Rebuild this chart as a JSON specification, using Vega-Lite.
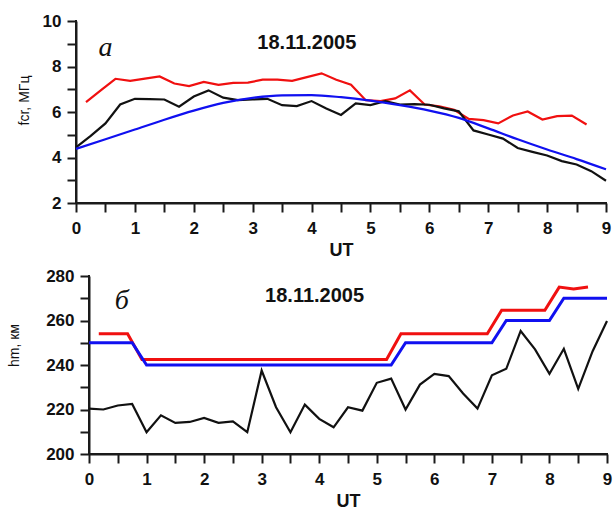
{
  "$schema": "https://vega.github.io/schema/vega-lite/v6.json",
  "background": "white",
  "padding": {"left": 7, "top": 12, "right": 2, "bottom": 2},
  "spacing": 8,
  "config": {
    "view": {"stroke": null},
    "axis": {
      "grid": false,
      "domain": true,
      "ticks": true,
      "domainColor": "#1a1a1a",
      "domainWidth": 2,
      "tickColor": "#1a1a1a",
      "tickWidth": 2,
      "tickSize": 9,
      "labelFont": "Liberation Sans",
      "labelFontWeight": "bold",
      "labelFontSize": 17,
      "labelColor": "#111",
      "labelFlush": false,
      "labelOverlap": false,
      "titleFont": "Liberation Sans",
      "titleColor": "#111"
    },
    "axisX": {"titleFontWeight": "bold", "titleFontSize": 18, "labelPadding": 8, "titlePadding": 5},
    "axisY": {"titleFontWeight": "normal", "titleFontSize": 14, "labelPadding": 6, "titlePadding": 6, "minExtent": 10}
  },
  "datasets": {
    "topBlack": [
      {"t":0,"v":4.45},{"t":0.25,"v":4.95},{"t":0.5,"v":5.5},{"t":0.75,"v":6.33},{"t":1,"v":6.58},{"t":1.25,"v":6.57},{"t":1.5,"v":6.55},{"t":1.75,"v":6.23},{"t":2,"v":6.68},{"t":2.25,"v":6.95},{"t":2.5,"v":6.63},{"t":2.75,"v":6.52},{"t":3,"v":6.55},{"t":3.25,"v":6.58},{"t":3.5,"v":6.3},{"t":3.75,"v":6.26},{"t":4,"v":6.48},{"t":4.25,"v":6.15},{"t":4.5,"v":5.87},{"t":4.75,"v":6.38},{"t":5,"v":6.3},{"t":5.25,"v":6.48},{"t":5.5,"v":6.33},{"t":5.75,"v":6.35},{"t":6,"v":6.32},{"t":6.25,"v":6.16},{"t":6.5,"v":6.03},{"t":6.75,"v":5.19},{"t":7,"v":5.01},{"t":7.25,"v":4.83},{"t":7.5,"v":4.42},{"t":7.75,"v":4.25},{"t":8,"v":4.09},{"t":8.25,"v":3.84},{"t":8.5,"v":3.69},{"t":8.75,"v":3.4},{"t":9,"v":2.98}
    ],
    "topRed": [
      {"t":0.17,"v":6.43},{"t":0.42,"v":6.95},{"t":0.67,"v":7.46},{"t":0.92,"v":7.37},{"t":1.17,"v":7.47},{"t":1.42,"v":7.56},{"t":1.67,"v":7.25},{"t":1.92,"v":7.14},{"t":2.17,"v":7.32},{"t":2.42,"v":7.19},{"t":2.67,"v":7.28},{"t":2.92,"v":7.29},{"t":3.17,"v":7.42},{"t":3.42,"v":7.42},{"t":3.67,"v":7.37},{"t":3.92,"v":7.53},{"t":4.17,"v":7.7},{"t":4.42,"v":7.42},{"t":4.67,"v":7.2},{"t":4.92,"v":6.52},{"t":5.17,"v":6.48},{"t":5.42,"v":6.6},{"t":5.67,"v":6.95},{"t":5.92,"v":6.33},{"t":6.17,"v":6.25},{"t":6.42,"v":6.1},{"t":6.67,"v":5.7},{"t":6.92,"v":5.64},{"t":7.17,"v":5.5},{"t":7.42,"v":5.85},{"t":7.67,"v":6.02},{"t":7.92,"v":5.67},{"t":8.17,"v":5.82},{"t":8.42,"v":5.84},{"t":8.67,"v":5.45}
    ],
    "topBlue": [
      {"t":0,"v":4.38},{"t":0.5,"v":4.8},{"t":1,"v":5.23},{"t":1.5,"v":5.66},{"t":2,"v":6.06},{"t":2.5,"v":6.4},{"t":3,"v":6.62},{"t":3.5,"v":6.73},{"t":4,"v":6.74},{"t":4.5,"v":6.65},{"t":5,"v":6.5},{"t":5.5,"v":6.3},{"t":6,"v":6.06},{"t":6.5,"v":5.74},{"t":7,"v":5.28},{"t":7.5,"v":4.8},{"t":8,"v":4.35},{"t":8.5,"v":3.93},{"t":9,"v":3.48}
    ],
    "botBlack": [
      {"t":0,"v":220.4},{"t":0.25,"v":220},{"t":0.5,"v":221.8},{"t":0.75,"v":222.5},{"t":1,"v":209.8},{"t":1.25,"v":217.4},{"t":1.5,"v":214},{"t":1.75,"v":214.4},{"t":2,"v":216.2},{"t":2.25,"v":214},{"t":2.5,"v":214.7},{"t":2.75,"v":209.8},{"t":3,"v":237.5},{"t":3.25,"v":221},{"t":3.5,"v":209.8},{"t":3.75,"v":222.2},{"t":4,"v":215.8},{"t":4.25,"v":212},{"t":4.5,"v":221},{"t":4.75,"v":219.5},{"t":5,"v":232},{"t":5.25,"v":233.9},{"t":5.5,"v":220},{"t":5.75,"v":231.2},{"t":6,"v":236},{"t":6.25,"v":235},{"t":6.5,"v":227.2},{"t":6.75,"v":220.4},{"t":7,"v":235.4},{"t":7.25,"v":238.3},{"t":7.5,"v":255.3},{"t":7.75,"v":247},{"t":8,"v":236},{"t":8.25,"v":247.3},{"t":8.5,"v":229.3},{"t":8.75,"v":246.2},{"t":9,"v":259.8}
    ],
    "botBlue": [
      {"t":0,"v":250},{"t":0.75,"v":250},{"t":1,"v":240},{"t":5.25,"v":240},{"t":5.5,"v":250},{"t":7,"v":250},{"t":7.25,"v":260},{"t":8,"v":260},{"t":8.25,"v":270},{"t":9,"v":270}
    ],
    "botRed": [
      {"t":0.17,"v":254},{"t":0.67,"v":254},{"t":0.92,"v":242.5},{"t":5.17,"v":242.5},{"t":5.42,"v":254},{"t":6.92,"v":254},{"t":7.17,"v":264.6},{"t":7.92,"v":264.6},{"t":8.17,"v":275},{"t":8.42,"v":274.2},{"t":8.67,"v":275.1}
    ],
    "topFrame": [
      {"g":"y","t":0,"v":10},{"g":"y","t":0,"v":2},{"g":"x","t":0,"v":2},{"g":"x","t":9,"v":2}
    ],
    "botFrame": [
      {"g":"y","t":0,"v":280},{"g":"y","t":0,"v":200},{"g":"x","t":0,"v":200},{"g":"x","t":9,"v":200}
    ],
    "topLabels": [
      {"t":0.5,"v":8.8,"s":"а","kind":"letter"},
      {"t":3.92,"v":9.03,"s":"18.11.2005","kind":"date"}
    ],
    "botLabels": [
      {"t":0.57,"v":268.9,"s":"б","kind":"letter"},
      {"t":3.92,"v":271.1,"s":"18.11.2005","kind":"date"}
    ]
  },
  "vconcat": [
    {
      "width": 530,
      "height": 182,
      "encoding": {
        "x": {"field": "t", "type": "quantitative", "scale": {"domain": [0, 9], "nice": false, "zero": false},
              "axis": {"title": "UT", "values": [0,0.5,1,1.5,2,2.5,3,3.5,4,4.5,5,5.5,6,6.5,7,7.5,8,8.5,9], "labelExpr": "datum.value % 1 == 0 ? format(datum.value, 'd') : ''"}},
        "y": {"field": "v", "type": "quantitative", "scale": {"domain": [2, 10], "nice": false, "zero": false},
              "axis": {"title": "fcr, МГц", "titleX": -45, "titleY": 79, "values": [2,3,4,5,6,7,8,9,10], "labelExpr": "datum.value % 2 == 0 ? format(datum.value, 'd') : ''"}}
      },
      "layer": [
        {"data": {"name": "topFrame"}, "mark": {"type": "line", "color": "#1a1a1a", "strokeWidth": 2, "strokeCap": "square"}, "encoding": {"detail": {"field": "g"}}},
        {"data": {"name": "topRed"}, "mark": {"type": "line", "color": "#f01010", "strokeWidth": 2.2}},
        {"data": {"name": "topBlack"}, "mark": {"type": "line", "color": "#111", "strokeWidth": 2.2}},
        {"data": {"name": "topBlue"}, "mark": {"type": "line", "color": "#1010f0", "strokeWidth": 2.2, "interpolate": "monotone"}},
        {"data": {"name": "topLabels"}, "transform": [{"filter": "datum.kind == 'letter'"}],
         "mark": {"type": "text", "font": "Liberation Serif", "fontStyle": "italic", "fontSize": 28, "color": "#111"},
         "encoding": {"text": {"field": "s"}}},
        {"data": {"name": "topLabels"}, "transform": [{"filter": "datum.kind == 'date'"}],
         "mark": {"type": "text", "font": "Liberation Sans", "fontWeight": "bold", "fontSize": 20, "color": "#111"},
         "encoding": {"text": {"field": "s"}}}
      ]
    },
    {
      "width": 531,
      "height": 178,
      "encoding": {
        "x": {"field": "t", "type": "quantitative", "scale": {"domain": [0, 9], "nice": false, "zero": false, "range": [13, 531]},
              "axis": {"title": "UT", "titleX": 272, "values": [0,0.5,1,1.5,2,2.5,3,3.5,4,4.5,5,5.5,6,6.5,7,7.5,8,8.5,9], "labelExpr": "datum.value % 1 == 0 ? format(datum.value, 'd') : ''"}},
        "y": {"field": "v", "type": "quantitative", "scale": {"domain": [200, 280], "nice": false, "zero": false},
              "axis": {"title": "hm, км", "offset": -13, "titleX": -68, "titleY": 69, "values": [200,210,220,230,240,250,260,270,280], "labelExpr": "datum.value % 20 == 0 ? format(datum.value, 'd') : ''"}}
      },
      "layer": [
        {"data": {"name": "botFrame"}, "mark": {"type": "line", "color": "#1a1a1a", "strokeWidth": 2, "strokeCap": "square"}, "encoding": {"detail": {"field": "g"}}},
        {"data": {"name": "botRed"}, "mark": {"type": "line", "color": "#f01010", "strokeWidth": 3}},
        {"data": {"name": "botBlue"}, "mark": {"type": "line", "color": "#1010f0", "strokeWidth": 3}},
        {"data": {"name": "botBlack"}, "mark": {"type": "line", "color": "#111", "strokeWidth": 2.2}},
        {"data": {"name": "botLabels"}, "transform": [{"filter": "datum.kind == 'letter'"}],
         "mark": {"type": "text", "font": "Liberation Serif", "fontStyle": "italic", "fontSize": 28, "color": "#111"},
         "encoding": {"text": {"field": "s"}}},
        {"data": {"name": "botLabels"}, "transform": [{"filter": "datum.kind == 'date'"}],
         "mark": {"type": "text", "font": "Liberation Sans", "fontWeight": "bold", "fontSize": 20, "color": "#111"},
         "encoding": {"text": {"field": "s"}}}
      ]
    }
  ]
}
